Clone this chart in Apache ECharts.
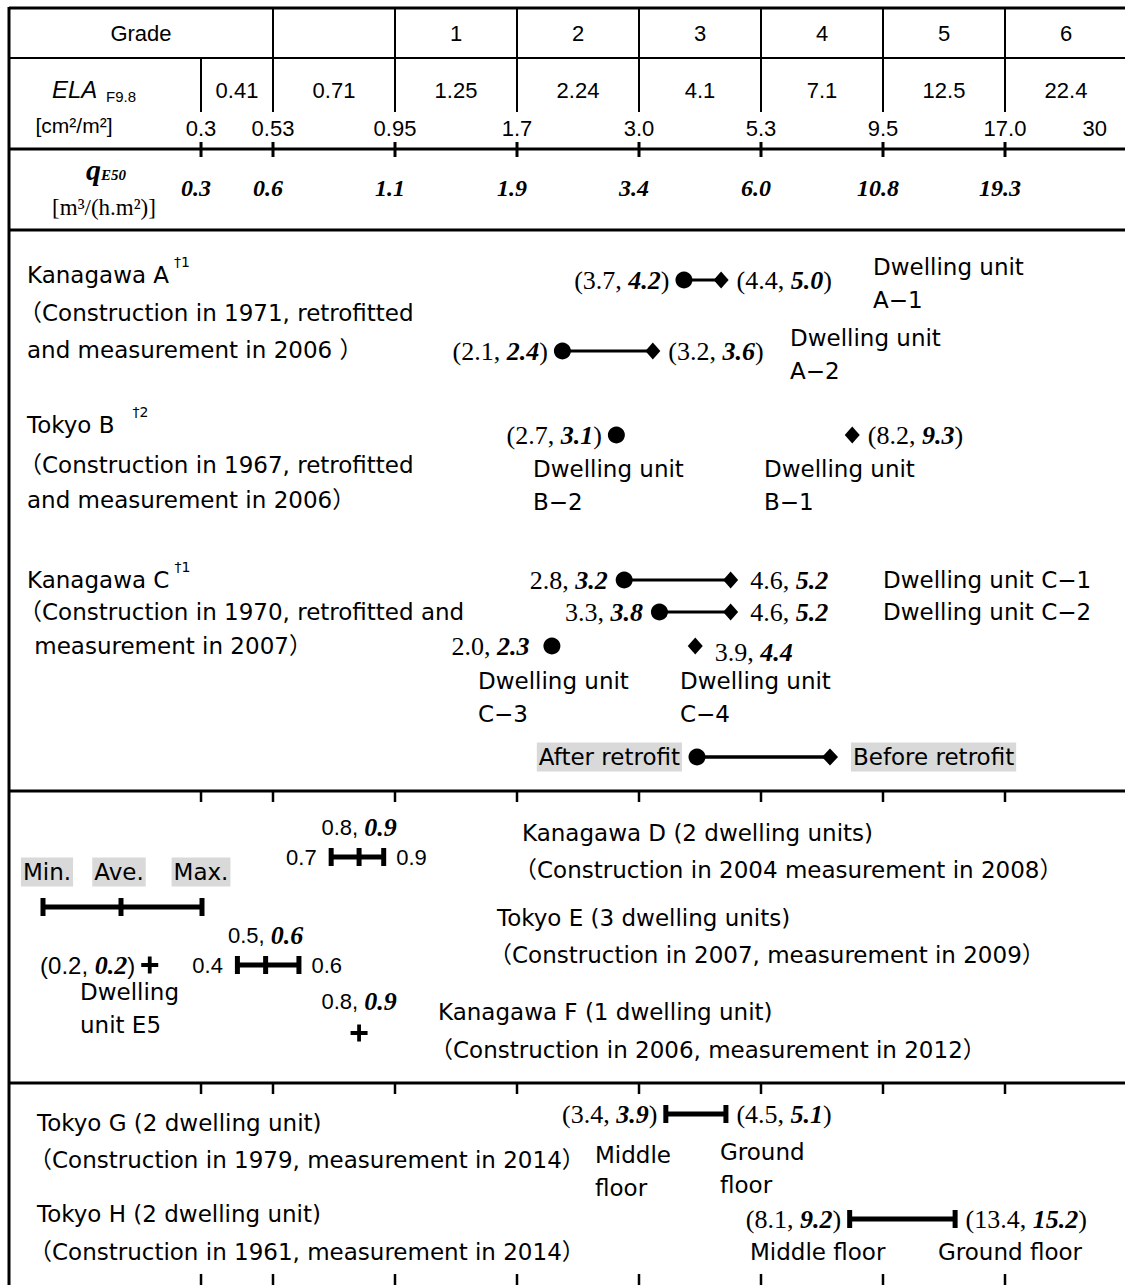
<!DOCTYPE html>
<html><head><meta charset="utf-8"><title>ELA grades of dwelling units</title>
<script src="https://cdn.jsdelivr.net/npm/echarts@6.0.0/dist/echarts.min.js"></script>
<style>html,body{margin:0;padding:0;background:#fff;}#chart{width:1125px;height:1285px;}</style>
</head><body><div id="chart"></div>
<script>
// ================= DATA =================
const gradeTitle = 'Grade';
const gradeLabels = ['1', '2', '3', '4', '5', '6'];
const elaBounds = [0.3, 0.53, 0.95, 1.7, 3.0, 5.3, 9.5, 17.0, 30];
const elaBoundLabels = ['0.3', '0.53', '0.95', '1.7', '3.0', '5.3', '9.5', '17.0', '30'];
const elaClassLabels = ['0.41', '0.71', '1.25', '2.24', '4.1', '7.1', '12.5', '22.4'];
const qBoundLabels = ['0.3', '0.6', '1.1', '1.9', '3.4', '6.0', '10.8', '19.3'];

// Retrofitted buildings: after retrofit (circle) -> before retrofit (diamond)
const pairUnits = ['A−1', 'A−2', 'C−1', 'C−2'];
const pairAfterEla = [3.7, 2.1, 2.8, 3.3];
const pairAfterQ = ['4.2', '2.4', '3.2', '3.8'];
const pairBeforeEla = [4.4, 3.2, 4.6, 4.6];
const pairBeforeQ = ['5.0', '3.6', '5.2', '5.2'];
const afterOnlyUnits = ['B−2', 'C−3'];
const afterOnlyEla = [2.7, 2.0];
const afterOnlyQ = ['3.1', '2.3'];
const beforeOnlyUnits = ['B−1', 'C−4'];
const beforeOnlyEla = [8.2, 3.9];
const beforeOnlyQ = ['9.3', '4.4'];

// New buildings: [min, ave, max]
const rangeSites = ['Kanagawa D (2 dwelling units)', 'Tokyo E (3 dwelling units)'];
const rangeEla = [[0.7, 0.8, 0.9], [0.4, 0.5, 0.6]];
const rangeAveQ = ['0.9', '0.6'];
const singleUnits = ['Dwelling\nunit E5', 'Kanagawa F (1 dwelling unit)'];
const singleEla = [0.2, 0.8];
const singleQ = ['0.2', '0.9'];

// Floors: [middle floor, ground floor]
const floorSites = ['Tokyo G (2 dwelling unit)', 'Tokyo H (2 dwelling unit)'];
const floorEla = [[3.4, 4.5], [8.1, 13.4]];
const floorQ = [['3.9', '5.1'], ['9.2', '15.2']];

const siteA = ['Kanagawa A', '（Construction in 1971, retrofitted', 'and measurement in 2006 ）'];
const siteB = ['Tokyo B', '（Construction in 1967, retrofitted', 'and measurement in 2006）'];
const siteC = ['Kanagawa C', '（Construction in 1970, retrofitted and', ' measurement in 2007）'];
const siteNotes = ['†1', '†2', '†1'];
const siteDetailD = '（Construction in 2004 measurement in 2008）';
const siteDetailE = '（Construction in 2007, measurement in 2009）';
const siteDetailF = '（Construction in 2006, measurement in 2012）';
const siteDetailG = '（Construction in 1979, measurement in 2014）';
const siteDetailH = '（Construction in 1961, measurement in 2014）';

// ================= LAYOUT / STYLE =================
const W = 1125, H = 1285;
const BOUND_POS = [-0.59, 0, 1, 2, 3, 4, 5, 6, 7];   // axis positions of the ELA class bounds
const PX_ORIGIN = 273, PX_UNIT = 122;
const X_MIN = -PX_ORIGIN / PX_UNIT, X_MAX = (W - PX_ORIGIN) / PX_UNIT;
const ROW = {A1: 280, A2: 351, B: 435, C1: 580, C2: 612, C3: 646, D: 857, E: 965, F: 1033, G: 1114, H: 1219};
const SANS = '"Liberation Sans","Noto Sans CJK JP",sans-serif';
const WIDE = '"DejaVu Sans","Noto Sans CJK JP",sans-serif';
const WIDE_SIZE = 23;
const SERIF = '"Liberation Serif",serif';
const RICH = {
  sn: {fontFamily: SANS, fontSize: 22, color: '#000'},
  sl: {fontFamily: SANS, fontSize: 24, color: '#000'},
  rm: {fontFamily: SERIF, fontSize: 26, color: '#000'},
  bi: {fontFamily: SERIF, fontSize: 26, fontStyle: 'italic', fontWeight: 'bold', color: '#000'}
};
const f1 = v => v.toFixed(1);
const lblParen = (e, q) => `{rm|(${f1(e)}, }{bi|${q}}{rm|)}`;
const lblPlain = (e, q) => `{rm|${f1(e)}, }{bi|${q}}`;
const lblSans = (e, q) => `{sn|${f1(e)}, }{bi|${q}}`;
const lblSansParen = (e, q) => `{sl|(${f1(e)}, }{bi|${q}}{sl|)}`;
const lblOne = e => `{sn|${f1(e)}}`;

// ELA value -> position on the class axis (log interpolation inside each class)
function elaToPos(v) {
  let i = 0;
  while (i < elaBounds.length - 2 && v > elaBounds[i + 1]) i++;
  const a = elaBounds[i], b = elaBounds[i + 1];
  return BOUND_POS[i] + (BOUND_POS[i + 1] - BOUND_POS[i]) * Math.log(v / a) / Math.log(b / a);
}

// ================= SERIES =================
const series = [];
const pairRows = [ROW.A1, ROW.A2, ROW.C1, ROW.C2];
const pairFmt = [lblParen, lblParen, lblPlain, lblPlain];
const pairDist = [[6, 8], [6, 8], [8, 12], [8, 12]];
pairUnits.forEach((u, i) => {
  series.push({
    type: 'line', name: u, silent: true, z: 3,
    lineStyle: {color: '#000', width: 3}, itemStyle: {color: '#000', opacity: 1},
    label: {show: true, color: '#000', rich: RICH},
    data: [
      {value: [elaToPos(pairAfterEla[i]), pairRows[i]], symbol: 'circle', symbolSize: 17,
        label: {position: 'left', distance: pairDist[i][0], formatter: () => pairFmt[i](pairAfterEla[i], pairAfterQ[i])}},
      {value: [elaToPos(pairBeforeEla[i]), pairRows[i]], symbol: 'diamond', symbolSize: [15, 17],
        label: {position: 'right', distance: pairDist[i][1], formatter: () => pairFmt[i](pairBeforeEla[i], pairBeforeQ[i])}}
    ]
  });
});

series.push({
  type: 'scatter', name: 'single', silent: true, z: 3, itemStyle: {color: '#000', opacity: 1},
  label: {show: true, color: '#000', rich: RICH},
  data: [
    {value: [elaToPos(afterOnlyEla[0]), ROW.B], symbol: 'circle', symbolSize: 17,
      label: {position: 'left', distance: 6, formatter: () => lblParen(afterOnlyEla[0], afterOnlyQ[0])}},
    {value: [elaToPos(afterOnlyEla[1]), ROW.C3], symbol: 'circle', symbolSize: 17,
      label: {position: 'left', distance: 14, formatter: () => lblPlain(afterOnlyEla[1], afterOnlyQ[1])}},
    {value: [elaToPos(beforeOnlyEla[0]), ROW.B], symbol: 'diamond', symbolSize: [15, 17],
      label: {position: 'right', distance: 8, formatter: () => lblParen(beforeOnlyEla[0], beforeOnlyQ[0])}},
    {value: [elaToPos(beforeOnlyEla[1]), ROW.C3], symbol: 'diamond', symbolSize: [15, 17],
      label: {position: 'right', distance: 12, offset: [0, 6], formatter: () => lblPlain(beforeOnlyEla[1], beforeOnlyQ[1])}}
  ]
});

// range bars (min / ave / max) and floor bars (middle / ground)
function renderBar(params, api) {
  const y = api.value(1);
  const a = api.coord([api.value(0), y]);
  const b = api.coord([api.value(3), y]);
  const ave = api.value(2);
  const cap = 9, st = {stroke: '#000', lineWidth: 5};
  const ch = [
    {type: 'line', shape: {x1: a[0], y1: a[1], x2: b[0], y2: b[1]}, style: st},
    {type: 'line', shape: {x1: a[0], y1: a[1] - cap, x2: a[0], y2: a[1] + cap}, style: st},
    {type: 'line', shape: {x1: b[0], y1: b[1] - cap, x2: b[0], y2: b[1] + cap}, style: st}
  ];
  if (!isNaN(ave)) {
    const c = api.coord([ave, y]);
    ch.push({type: 'line', shape: {x1: c[0], y1: c[1] - cap, x2: c[0], y2: c[1] + cap}, style: st});
  }
  return {type: 'group', children: ch};
}
series.push({
  type: 'custom', name: 'bars', silent: true, renderItem: renderBar, encode: {x: [0, 3], y: 1},
  data: [
    [elaToPos(rangeEla[0][0]), ROW.D, elaToPos(rangeEla[0][1]), elaToPos(rangeEla[0][2])],
    [elaToPos(rangeEla[1][0]), ROW.E, elaToPos(rangeEla[1][1]), elaToPos(rangeEla[1][2])],
    [elaToPos(floorEla[0][0]), ROW.G, NaN, elaToPos(floorEla[0][1])],
    [elaToPos(floorEla[1][0]), ROW.H, NaN, elaToPos(floorEla[1][1])]
  ]
});

const PLUS = 'path://M7,0H11V7H18V11H11V18H7V11H0V7H7Z';
series.push({
  type: 'scatter', name: 'plus', silent: true, symbol: PLUS, symbolSize: 17, itemStyle: {color: '#000', opacity: 1},
  label: {show: true, color: '#000', rich: RICH},
  data: [
    {value: [elaToPos(singleEla[0]), ROW.E], label: {position: 'left', distance: 6, formatter: () => lblSansParen(singleEla[0], singleQ[0])}},
    {value: [elaToPos(singleEla[1]), ROW.F], label: {position: 'top', distance: 10, formatter: () => lblSans(singleEla[1], singleQ[1])}}
  ]
});

// value labels of the bars
series.push({
  type: 'scatter', name: 'barLabels', silent: true, symbolSize: 1, itemStyle: {color: 'rgba(0,0,0,0)', opacity: 1},
  label: {show: true, color: '#000', opacity: 1, rich: RICH},
  data: [
    {value: [elaToPos(rangeEla[0][1]), ROW.D], label: {position: 'top', distance: 16, formatter: () => lblSans(rangeEla[0][1], rangeAveQ[0])}},
    {value: [elaToPos(rangeEla[0][0]), ROW.D], label: {position: 'left', distance: 14, formatter: () => lblOne(rangeEla[0][0])}},
    {value: [elaToPos(rangeEla[0][2]), ROW.D], label: {position: 'right', distance: 12, formatter: () => lblOne(rangeEla[0][2])}},
    {value: [elaToPos(rangeEla[1][1]), ROW.E], label: {position: 'top', distance: 16, formatter: () => lblSans(rangeEla[1][1], rangeAveQ[1])}},
    {value: [elaToPos(rangeEla[1][0]), ROW.E], label: {position: 'left', distance: 14, formatter: () => lblOne(rangeEla[1][0])}},
    {value: [elaToPos(rangeEla[1][2]), ROW.E], label: {position: 'right', distance: 12, formatter: () => lblOne(rangeEla[1][2])}},
    {value: [elaToPos(floorEla[0][0]), ROW.G], label: {position: 'left', distance: 8, formatter: () => lblParen(floorEla[0][0], floorQ[0][0])}},
    {value: [elaToPos(floorEla[0][1]), ROW.G], label: {position: 'right', distance: 10, formatter: () => lblParen(floorEla[0][1], floorQ[0][1])}},
    {value: [elaToPos(floorEla[1][0]), ROW.H], label: {position: 'left', distance: 8, formatter: () => lblParen(floorEla[1][0], floorQ[1][0])}},
    {value: [elaToPos(floorEla[1][1]), ROW.H], label: {position: 'right', distance: 10, formatter: () => lblParen(floorEla[1][1], floorQ[1][1])}}
  ]
});

const chart = echarts.init(document.getElementById('chart'), null, {renderer: 'svg'});
chart.setOption({
  animation: false,
  backgroundColor: '#fff',
  grid: {left: 0, right: 0, top: 0, bottom: 0},
  xAxis: {type: 'value', min: X_MIN, max: X_MAX, show: false},
  yAxis: {type: 'value', min: 0, max: H, inverse: true, show: false},
  series: series
});

// ================= TABLE FRAME & TEXTS =================
const px = p => chart.convertToPixel({xAxisIndex: 0}, p);
const measureCtx = document.createElement('canvas').getContext('2d');
function textWidth(s, font) { measureCtx.font = font; return measureCtx.measureText(s).width; }
const G = [];
function L(x1, y1, x2, y2, w) { G.push({type: 'line', silent: true, z: 10, shape: {x1, y1, x2, y2}, style: {stroke: '#000', lineWidth: w}}); }
function T(x, y, text, st) {
  G.push({type: 'text', silent: true, z: 10, x, y,
    style: Object.assign({text, fontFamily: SANS, fontSize: 22, fill: '#000', align: 'left', verticalAlign: 'middle'}, st || {})});
}
const WS = {fontFamily: WIDE, fontSize: WIDE_SIZE};
// full-width opening parenthesis carries its own left spacing: pull such lines left a little
function TW(x, y, text, st) { T(text.charAt(0) === '（' ? x - 8 : x, y, text, Object.assign({}, WS, st || {})); }

// frame
L(9, 8, W, 8, 3); L(9, 7, 9, H, 3);
L(9, 58, W, 58, 2); L(9, 149, W, 149, 3); L(9, 230, W, 230, 3);
L(9, 791, W, 791, 3); L(9, 1083, W, 1083, 3);
for (let i = 1; i < BOUND_POS.length - 1; i++) L(px(BOUND_POS[i]), 8, px(BOUND_POS[i]), 58, 2);
for (let i = 0; i < BOUND_POS.length - 1; i++) {
  const x = px(BOUND_POS[i]);
  L(x, 58, x, 112, 2);
  L(x, 142, x, 157, 3);
  L(x, 791, x, 802, 2.5);
  L(x, 1083, x, 1094, 2.5);
  L(x, 1274, x, H, 2.5);
}
// header texts
T(141, 33, gradeTitle, {align: 'center'});
gradeLabels.forEach((g, k) => T((px(BOUND_POS[k + 2]) + px(BOUND_POS[k + 3])) / 2, 33, g, {align: 'center'}));
elaClassLabels.forEach((s, i) => T((px(BOUND_POS[i]) + px(BOUND_POS[i + 1])) / 2, 90, s, {align: 'center'}));
elaBoundLabels.forEach((s, i) => {
  if (i === elaBoundLabels.length - 1) T(px(BOUND_POS[i]) - 20, 128, s, {align: 'right'});
  else T(px(BOUND_POS[i]), 128, s, {align: 'center'});
});
qBoundLabels.forEach((s, i) => T(px(BOUND_POS[i]) - 5, 188, s,
  {align: 'center', fontFamily: SERIF, fontSize: 24, fontStyle: 'italic', fontWeight: 'bold'}));
T(52, 89, 'ELA', {fontStyle: 'italic', fontSize: 24});
T(106, 96, 'F9.8', {fontSize: 15});
T(74, 125, '[cm²/m²]', {align: 'center', fontSize: 21});
T(101, 169, 'q', {align: 'right', fontFamily: SERIF, fontSize: 30, fontStyle: 'italic', fontWeight: 'bold'});
T(101, 175, 'E50', {fontFamily: SERIF, fontSize: 15, fontStyle: 'italic', fontWeight: 'bold'});
T(104, 207, '[m³/(h.m²)]', {align: 'center', fontFamily: SERIF, fontSize: 23});

// section A-C texts
const siteY = [[275, 313, 350], [425, 465, 500], [580, 612, 646]];
const noteGap = [5, 18, 5];
const wideFont = WIDE_SIZE + 'px "DejaVu Sans"';
[siteA, siteB, siteC].forEach((lines, k) => {
  lines.forEach((s, j) => TW(27, siteY[k][j], s));
  TW(27 + textWidth(lines[0], wideFont) + noteGap[k], siteY[k][0] - 13, siteNotes[k], {fontSize: 14});
});
const ML = {verticalAlign: 'top', lineHeight: 33};
TW(873, 250, 'Dwelling unit\n' + pairUnits[0], ML);
TW(790, 321, 'Dwelling unit\n' + pairUnits[1], ML);
TW(533, 452, 'Dwelling unit\n' + afterOnlyUnits[0], ML);
TW(764, 452, 'Dwelling unit\n' + beforeOnlyUnits[0], ML);
TW(883, ROW.C1, 'Dwelling unit ' + pairUnits[2]);
TW(883, ROW.C2, 'Dwelling unit ' + pairUnits[3]);
TW(478, 664, 'Dwelling unit\n' + afterOnlyUnits[1], ML);
TW(680, 664, 'Dwelling unit\n' + beforeOnlyUnits[1], ML);
// retrofit legend
const BOX = {backgroundColor: '#d9d9d9', padding: [4, 2, 2, 2]};
TW(682, 757, 'After retrofit', Object.assign({align: 'right'}, BOX));
L(697, 757, 830, 757, 3.5);
G.push({type: 'circle', silent: true, z: 10, shape: {cx: 697, cy: 757, r: 8.5}, style: {fill: '#000'}});
G.push({type: 'polygon', silent: true, z: 10, shape: {points: [[822, 757], [830, 748.5], [838, 757], [830, 765.5]]}, style: {fill: '#000'}});
TW(851, 757, 'Before retrofit', BOX);

// section D-F texts
TW(522, 833, rangeSites[0]); TW(522, 870, siteDetailD);
TW(497, 918, rangeSites[1]); TW(497, 955, siteDetailE);
TW(438, 1012, singleUnits[1]); TW(438, 1050, siteDetailF);
TW(80, 975, singleUnits[0], ML);
// min/ave/max legend
TW(47, 872, 'Min.', Object.assign({align: 'center'}, BOX));
TW(119, 872, 'Ave.', Object.assign({align: 'center'}, BOX));
TW(201, 872, 'Max.', Object.assign({align: 'center'}, BOX));
L(43, 907, 202, 907, 5);
[43, 121, 202].forEach(x => L(x, 898, x, 916, 5));

// section G-H texts
TW(37, 1123, floorSites[0]); TW(37, 1160, siteDetailG);
TW(37, 1214, floorSites[1]); TW(37, 1252, siteDetailH);
TW(595, 1138, 'Middle\nfloor', ML);
TW(720, 1135, 'Ground\nfloor', ML);
TW(750, 1252, 'Middle floor');
TW(938, 1252, 'Ground floor');

chart.setOption({graphic: {elements: G}});
</script></body></html>
